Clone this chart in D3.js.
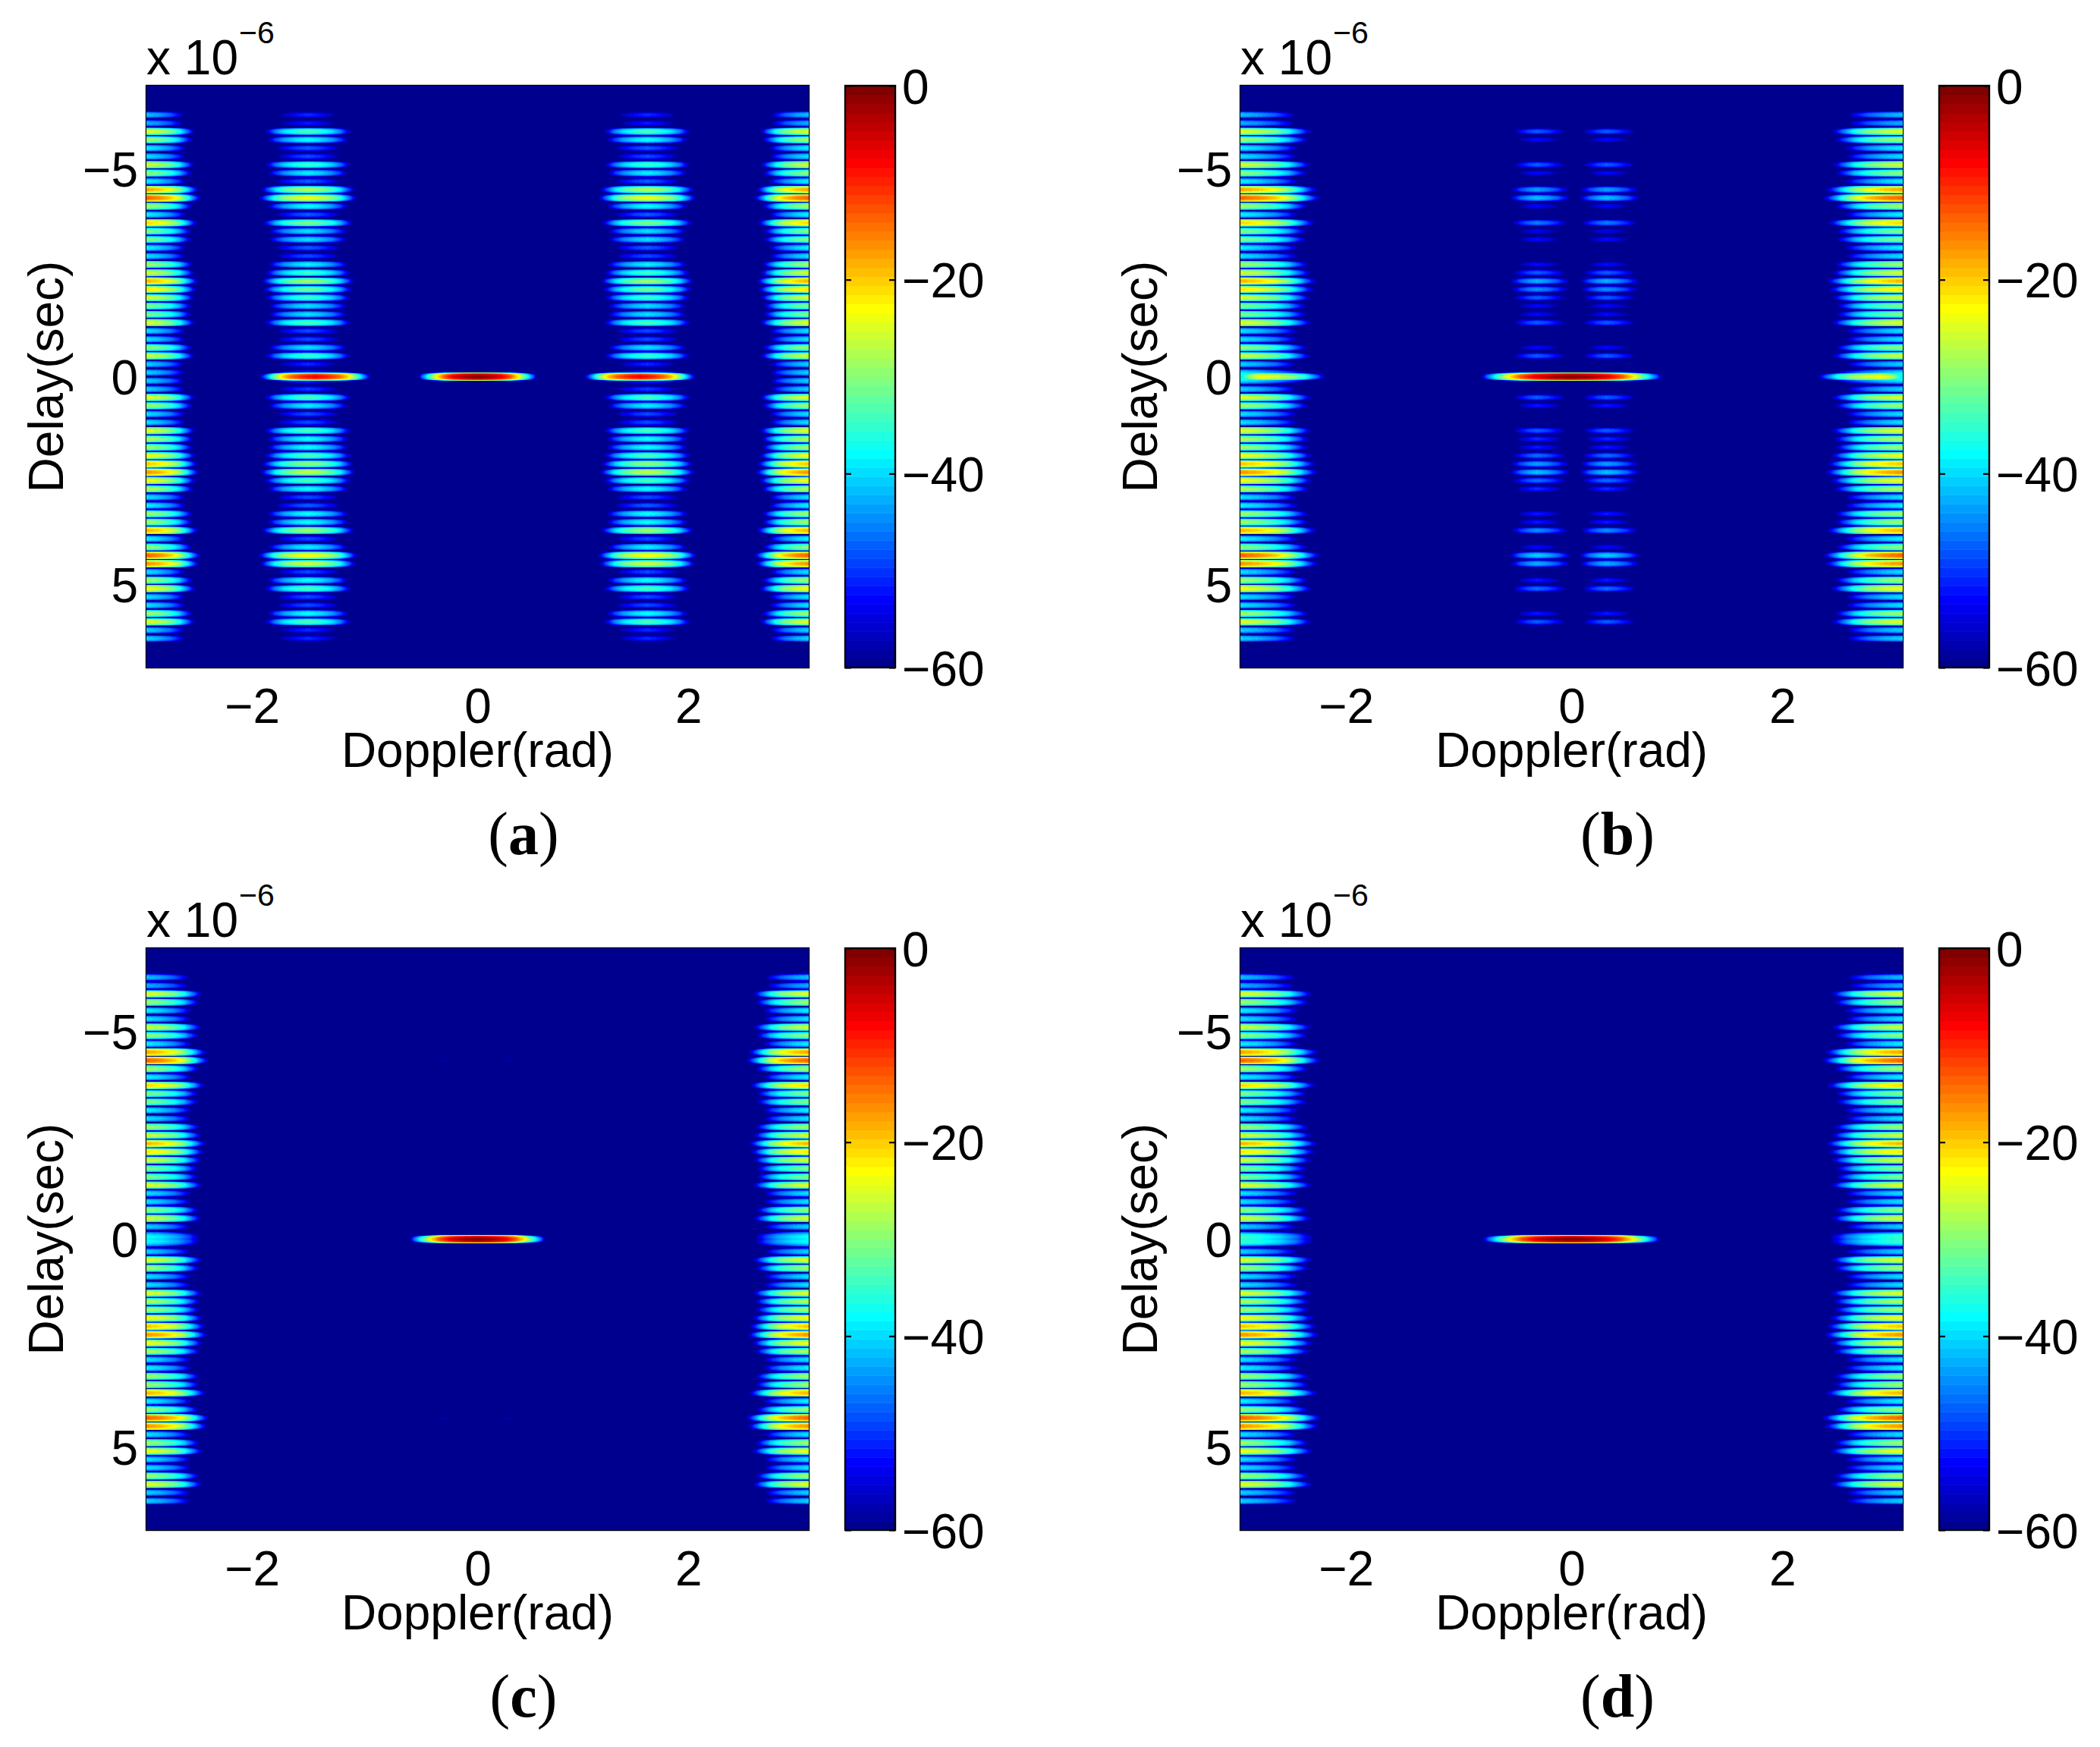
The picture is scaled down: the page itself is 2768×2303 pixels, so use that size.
<!DOCTYPE html>
<html>
<head>
<meta charset="utf-8">
<script src="https://cdn.jsdelivr.net/npm/d3@7/dist/d3.min.js"></script>
<style>
html,body{margin:0;padding:0;background:#fff}
#root{position:relative;width:2768px;height:2303px;overflow:hidden;background:#fff}
canvas{position:absolute;display:block}
svg{position:absolute;left:0;top:0}
text{font-family:"Liberation Sans",Arial,sans-serif;fill:#000}
</style>
</head>
<body>
<div id="root"></div>
<script>
// Delay offsets (microseconds) of the sidelobe rows, counted outward from zero delay
const rowOffsets = [0.1,0.3,0.5,0.7,0.9,1.1,1.3,1.5,1.7,1.9,2.1,2.3,2.5,2.7,2.9,3.1,3.3,3.5,3.7,3.9,4.1,4.3,4.5,4.7,4.9,5.1,5.3,5.5,5.7,5.9,6.1,6.3];
// Peak level (dB) of rows in the bands at Doppler = +/-pi, above and below zero delay
const edgeUpper = [-40,-40,-25,-29,-39,-39,-24,-30,-30,-25,-21,-18,-25,-28,-39,-38,-30,-30,-20,-38,-28,-13,-17,-38,-29,-25,-39,-38,-28,-24,-42,-41];
const edgeLower = [-40,-40,-24,-28,-39,-39,-24,-27,-28,-23,-19,-16,-23,-27,-39,-38,-28,-28,-18,-38,-29,-13,-16,-39,-28,-23,-39,-39,-28,-24,-40,-40];
// Panel (a): bands near Doppler = +/-1.6
const midUpper = [-50,-50,-34,-39,-48,-48,-33,-39,-39,-34,-31,-28,-34,-38,-48,-47,-39,-39,-30,-47,-37,-23,-27,-47,-38,-34,-48,-47,-37,-33,-51,-50];
const midLower = [-50,-49,-33,-38,-48,-48,-33,-37,-37,-33,-29,-26,-33,-37,-48,-47,-37,-37,-28,-48,-38,-22,-25,-48,-37,-33,-48,-48,-37,-33,-50,-50];
// Panel (b): twin rows near Doppler = +/-0.33 (null = below the -60 dB floor)
const sideUpper = [null,null,-47,-52,null,null,-47,-52,-52,-47,-44,-42,-47,-52,null,-58,-52,-53,-45,null,-52,-41,-43,null,-52,-47,null,null,-52,-47,null,null];
const sideLower = [null,null,-47,-51,null,null,-47,-50,-51,-46,-43,-41,-46,-50,null,-58,-51,-51,-44,null,-52,-40,-42,null,-51,-46,null,null,-51,-47,null,null];
// Panel (c): faint rows near Doppler = +/-0.32, at delay offsets of +/-4.3
const faintDelays = [-4.3,4.3];
const faintLevels = [-57,-57];
// Main lobes at zero delay, per panel
const panelLabels = ["(a)","(b)","(c)","(d)"];
const mainWidths = [0.567,0.866,0.65,0.85];
const edgeWidths = [0.567,0.83,0.65,0.84];
const zeroEdgeLevels = [null,-37,-37,-34];
// Tick values
const dopplerTicks = [-2,0,2];
const delayTicks = [-5,0,5];
const barTicks = [0,-20,-40,-60];
// Normalised lobe roll-off: distance (fraction of half-width) against drop in dB
const rollR = [0,0.2,0.4,0.55,0.7,0.84,0.93,1];
const rollDb = [0,2,6,12,23,37,47,60];
const rollYR = [0,0.4,0.65,0.82,0.92,1];
const rollYDb = [0,2,7,14,27,60];

const W = 2768, H = 2303, PW = 873, PH = 767, CW = 66;
const FS = 64;
const lefts = [193,1635,193,1635], tops = [113,113,1250,1250];
const rowH = 0.1;

const root = d3.select("#root");
const svg = root.append("svg").attr("width",W).attr("height",H);

const jetIdx = d3.scaleLinear().domain([0,7,23,39,55,63])
  .range(["rgb(0,0,143)","rgb(0,0,255)","rgb(0,255,255)","rgb(255,255,0)","rgb(255,0,0)","rgb(128,0,0)"]);
const jetColors = d3.range(64).map(i => d3.rgb(jetIdx(i)));
const colour = d3.scaleQuantize().domain([-60,0]).range(jetColors);
const drop = d3.scaleLinear().domain(rollR).range(rollDb).clamp(true);
const dropY = d3.scaleLinear().domain(rollYR).range(rollYDb).clamp(true);
const minus = v => (v < 0 ? "\u2212" + Math.abs(v) : String(v));

function buildLobes(p){
  const L = [];
  const add = (dop,del,level,w,h,wInner) => { if(level!==null) L.push({dop,del,level,w,h:h||rowH,wInner:wInner||w}); };
  rowOffsets.forEach((o,i)=>{
    [-Math.PI,Math.PI].forEach(d=>{
      add(d,-o,edgeUpper[i],edgeWidths[p]);
      add(d, o,edgeLower[i],edgeWidths[p]);
    });
  });
  add(0,0,0,mainWidths[p],rowH);
  if(p===0){
    rowOffsets.forEach((o,i)=>{
      [-1.61,1.61].forEach(d=>{
        add(d,-o,midUpper[i],0.567);
        add(d, o,midLower[i],0.567);
      });
    });
    add(-1.54,0,-7,0.55);
    add( 1.54,0,-7,0.55);
  }
  if(p===1){
    rowOffsets.forEach((o,i)=>{
      [-1,1].forEach(s=>{
        add(s*0.33,-o,sideUpper[i],0.5,rowH,0.4);
        add(s*0.33, o,sideLower[i],0.5,rowH,0.4);
      });
    });
  }
  if(p===2){
    faintDelays.forEach((o,i)=>{
      add(-0.33,o,faintLevels[i],0.3);
      add( 0.3,o,faintLevels[i],0.3);
    });
  }
  if(zeroEdgeLevels[p]!==null){
    [-0.05,0.05].forEach(o=>{
      add(-Math.PI,o,zeroEdgeLevels[p],edgeWidths[p]*1.15,0.14);
      add( Math.PI,o,zeroEdgeLevels[p],edgeWidths[p]*1.15,0.14);
    });
  }
  if(p===1){
    L.push({dop:-Math.PI+0.2,del:0,level:-23,w:0.74,h:rowH,wInner:0.3});
    L.push({dop: Math.PI-0.2,del:0,level:-23,w:0.3,h:rowH,wInner:0.74});
  }
  return L;
}

function drawHeat(p,x,y,left,top){
  const canvas = root.append("canvas").attr("width",PW).attr("height",PH)
    .style("left",left+"px").style("top",top+"px").node();
  const ctx = canvas.getContext("2d");
  const field = new Float32Array(PW*PH).fill(-60);
  buildLobes(p).forEach(l=>{
    const x0 = Math.max(0,Math.floor(x(l.dop - l.wInner))-left);
    const x1 = Math.min(PW-1,Math.ceil(x(l.dop + l.w))-left);
    const y0 = Math.max(0,Math.floor(y(l.del - l.h))-top);
    const y1 = Math.min(PH-1,Math.ceil(y(l.del + l.h))-top);
    for(let j=y0;j<=y1;j++){
      const dv = Math.abs(y.invert(j+top+0.5)-l.del)/l.h;
      if(dv>=1) continue;
      const dy = dropY(dv);
      for(let i=x0;i<=x1;i++){
        const du = x.invert(i+left+0.5)-l.dop;
        const ru = du<0 ? -du/l.wInner : du/l.w;
        if(ru>=1) continue;
        const v = l.level - drop(ru) - dy;
        const k = j*PW+i;
        if(v>field[k]) field[k]=v;
      }
    }
  });
  const img = ctx.createImageData(PW,PH);
  for(let k=0;k<field.length;k++){
    const c = colour(field[k]);
    img.data[4*k]=c.r; img.data[4*k+1]=c.g; img.data[4*k+2]=c.b; img.data[4*k+3]=255;
  }
  ctx.putImageData(img,0,0);
}

panelLabels.forEach((label,p)=>{
  const left = lefts[p], top = tops[p], right = left+PW, bottom = top+PH;
  const x = d3.scaleLinear().domain([-Math.PI,Math.PI]).range([left,right]);
  const y = d3.scaleLinear().domain([-7,7]).range([top,bottom]);
  drawHeat(p,x,y,left,top);
  const g = svg.append("g");
  g.append("rect").attr("x",left).attr("y",top).attr("width",PW).attr("height",PH)
    .attr("fill","none").attr("stroke","#000").attr("stroke-width",2.4);

  const styl = s => { s.select(".domain").remove(); s.selectAll("line").attr("stroke","#000").attr("stroke-width",2.2); };
  g.append("g").attr("transform",`translate(0,${bottom})`)
    .call(d3.axisBottom(x).tickValues(dopplerTicks).tickSizeInner(-8).tickSizeOuter(0).tickFormat(minus))
    .call(styl)
    .call(s=>s.selectAll("text").attr("font-size",FS).attr("font-family","Liberation Sans").attr("fill","#000")
       .attr("dy",null).attr("y",73)
       .attr("text-anchor",d=>d<0?"end":"middle").attr("x",d=>d<0?17:0));
  g.append("g").attr("transform",`translate(0,${top})`)
    .call(d3.axisTop(x).tickValues(dopplerTicks).tickSizeInner(-8).tickSizeOuter(0).tickFormat(""))
    .call(styl);
  g.append("g").attr("transform",`translate(${left},0)`)
    .call(d3.axisLeft(y).tickValues(delayTicks).tickSizeInner(-8).tickSizeOuter(0).tickFormat(minus))
    .call(styl)
    .call(s=>s.selectAll("text").attr("font-size",FS).attr("font-family","Liberation Sans").attr("fill","#000")
       .attr("dy",null).attr("y",23).attr("x",-11).attr("text-anchor","end"));
  g.append("g").attr("transform",`translate(${right},0)`)
    .call(d3.axisRight(y).tickValues(delayTicks).tickSizeInner(-8).tickSizeOuter(0).tickFormat(""))
    .call(styl);

  g.append("text").attr("x",(left+right)/2).attr("y",bottom+131).attr("text-anchor","middle")
    .attr("font-size",FS).text("Doppler(rad)");
  g.append("text").attr("transform",`translate(${left-110},${(top+bottom)/2}) rotate(-90)`)
    .attr("text-anchor","middle").attr("font-size",FS).text("Delay(sec)");
  g.append("text").attr("x",left).attr("y",top-15).attr("font-size",FS).text("x 10");
  g.append("text").attr("x",left+122).attr("y",top-56).attr("font-size",41).text("\u22126");

  // Caption
  g.append("text").attr("x",left+497).attr("y",bottom+246).attr("text-anchor","middle")
    .attr("font-size",80).style("font-family","'Liberation Serif',serif")
    .call(t=>{ t.append("tspan").text("(");
      t.append("tspan").attr("font-weight","bold").text(label[1]);
      t.append("tspan").text(")"); });

  // Colourbar
  const bx = right+48;
  const c = d3.scaleLinear().domain([-60,0]).range([bottom,top]);
  const cb = g.append("g");
  cb.selectAll("rect").data(jetColors).join("rect")
    .attr("x",bx).attr("width",CW)
    .attr("y",(d,i)=>c(-60+(i+1)*60/64))
    .attr("height",(d,i)=>c(-60+i*60/64)-c(-60+(i+1)*60/64)+0.5)
    .attr("fill",d=>d.formatRgb());
  g.append("rect").attr("x",bx).attr("y",top).attr("width",CW).attr("height",PH)
    .attr("fill","none").attr("stroke","#000").attr("stroke-width",2.4);
  g.append("g").attr("transform",`translate(${bx+CW},0)`)
    .call(d3.axisRight(c).tickValues(barTicks).tickSizeInner(-8).tickSizeOuter(0).tickFormat(minus))
    .call(styl)
    .call(s=>s.selectAll("text").attr("font-size",FS).attr("font-family","Liberation Sans").attr("fill","#000")
       .attr("dy",null).attr("y",23).attr("x",9).attr("text-anchor","start"));
  g.append("g").attr("transform",`translate(${bx},0)`)
    .call(d3.axisLeft(c).tickValues(barTicks).tickSizeInner(-8).tickSizeOuter(0).tickFormat(""))
    .call(styl);
});
</script>
</body>
</html>
